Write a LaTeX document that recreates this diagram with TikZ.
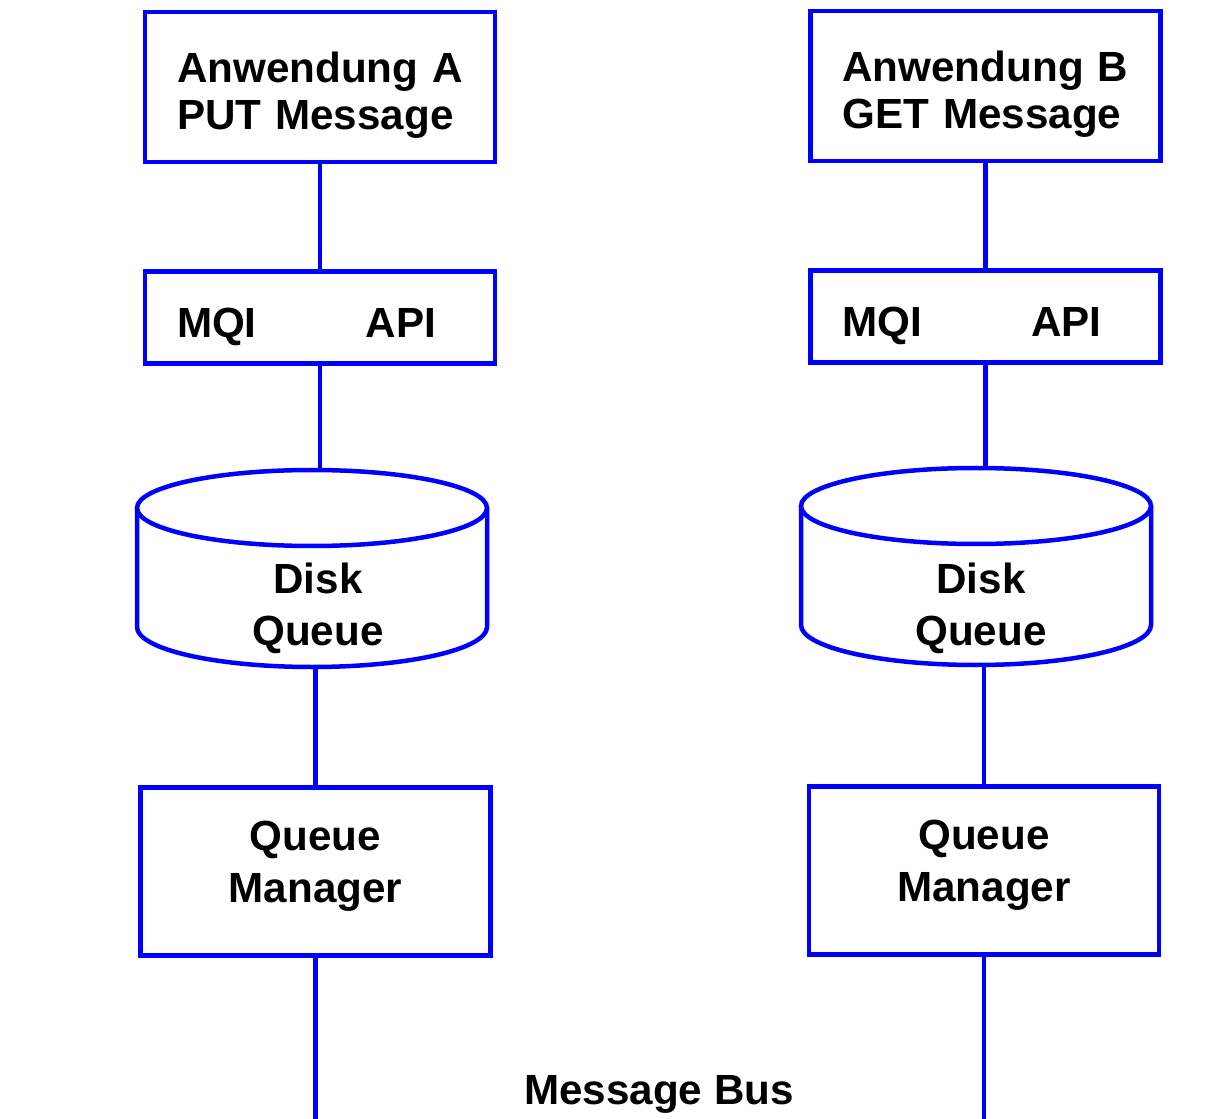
\documentclass[tikz,border=0pt]{standalone}
\usepackage{fontspec}
\setmainfont{Liberation Sans}
\usepackage{tikz}

\definecolor{mqblue}{RGB}{0,0,255}

\tikzset{
  appbox/.style={draw=mqblue, line width=0.09cm, minimum width=7cm, minimum height=3cm,
    inner xsep=0.64cm, text width=5.72cm, align=left, text height=0.78cm, text depth=0.94cm,
    font=\fontsize{24}{26.7}\selectfont\bfseries},
  apibox/.style={appbox, minimum height=1.84cm, text height=0.82cm, text depth=0cm},
  qmbox/.style={draw=mqblue, line width=0.09cm, minimum width=7cm, minimum height=3.36cm,
    inner xsep=0.3cm, text width=6.4cm, align=center, text height=0.18cm, text depth=1.04cm,
    font=\fontsize{24}{29.6}\selectfont\bfseries},
  disklabel/.style={align=center, inner sep=0pt, font=\fontsize{24}{29.6}\selectfont\bfseries},
  wire/.style={draw=mqblue, line width=0.09cm},
}

\begin{document}
\begin{tikzpicture}[x=0.2mm, y=0.2mm]
    \useasboundingbox (0,0) rectangle (1224,-1119);

    % Applications
    \node[appbox] (appA) at (320,-87) {Anwendung A\\PUT Message};
    \node[appbox] (appB) at (985.5,-86) {Anwendung B\\GET Message};

    % MQI interface
    \node[apibox] (mqiA) at (320,-317.5) {MQI\hspace{2.18cm}API};
    \node[apibox] (mqiB) at (985.5,-316.5) {MQI\hspace{2.18cm}API};

    % Disk queues
    \draw[wire] (312,-508) ellipse [x radius=3.5cm, y radius=0.76cm];
    \draw[wire] (137,-508) -- (137,-627) arc[start angle=180, end angle=360, x radius=3.5cm, y radius=0.8cm] -- (487,-508);
    \coordinate (dqA-top) at (312,-470);
    \coordinate (dqA-bot) at (312,-667);
    \node[disklabel] (dqA) at (318,-608) {Disk\\Queue};

    \draw[wire] (976,-506) ellipse [x radius=3.5cm, y radius=0.76cm];
    \draw[wire] (801,-506) -- (801,-625) arc[start angle=180, end angle=360, x radius=3.5cm, y radius=0.8cm] -- (1151,-506);
    \coordinate (dqB-top) at (976,-468);
    \coordinate (dqB-bot) at (976,-665);
    \node[disklabel] (dqB) at (981,-608) {Disk\\Queue};

    % Queue managers
    \node[qmbox] (qmA) at (315.5,-871.5) {Queue\\Manager};
    \node[qmbox] (qmB) at (984,-870.5) {Queue\\Manager};

    % Bus
    \coordinate (busA) at (315,-1119);
    \coordinate (busB) at (993,-1119);
    \node[font=\fontsize{24}{28}\selectfont\bfseries, inner sep=0pt] (bus) at (659,-1094) {Message Bus};

    % Connections
    \draw[wire] (appA.south) -- (mqiA.north);
    \draw[wire] (mqiA.south) -- (mqiA.south |- dqA-top);
    \draw[wire] (qmA.north) -- (qmA.north |- dqA-bot);
    \draw[wire] (qmA.south) -- (qmA.south |- busA);

    \draw[wire] (appB.south) -- (mqiB.north);
    \draw[wire] (mqiB.south) -- (mqiB.south |- dqB-top);
    \draw[wire] (qmB.north) -- (qmB.north |- dqB-bot);
    \draw[wire] (qmB.south) -- (qmB.south |- busB);

\end{tikzpicture}
\end{document}
